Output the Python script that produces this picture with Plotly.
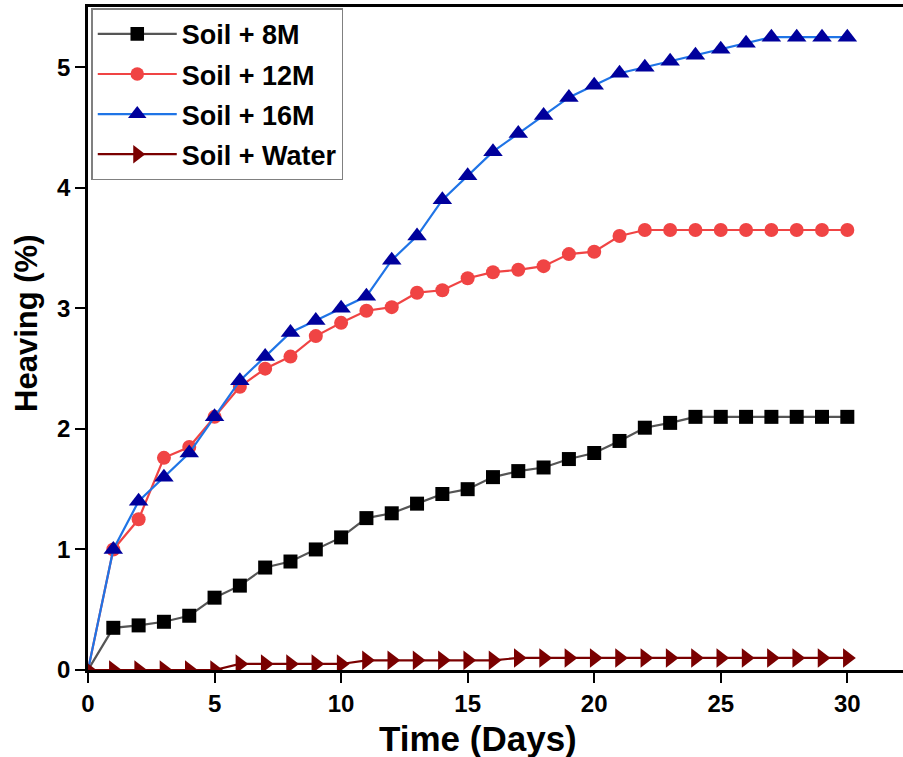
import plotly.graph_objects as go

# Heaving measurements over 30 days for each pore fluid
days = list(range(0, 31))

soil_8m = [0, 0.35, 0.37, 0.40, 0.45, 0.60, 0.70, 0.85, 0.90, 1.00, 1.10,
           1.26, 1.30, 1.38, 1.46, 1.50, 1.60, 1.65, 1.68, 1.75, 1.80,
           1.90, 2.01, 2.05, 2.10, 2.10, 2.10, 2.10, 2.10, 2.10, 2.10]

soil_12m = [0, 1.00, 1.25, 1.76, 1.85, 2.10, 2.35, 2.50, 2.60, 2.77, 2.88,
            2.98, 3.01, 3.13, 3.15, 3.25, 3.30, 3.32, 3.35, 3.45, 3.47,
            3.60, 3.65, 3.65, 3.65, 3.65, 3.65, 3.65, 3.65, 3.65, 3.65]

soil_16m = [0, 1.00, 1.40, 1.60, 1.80, 2.10, 2.40, 2.60, 2.80, 2.90, 3.00,
            3.10, 3.40, 3.60, 3.90, 4.10, 4.30, 4.45, 4.60, 4.75, 4.85,
            4.95, 5.00, 5.05, 5.10, 5.15, 5.20, 5.25, 5.25, 5.25, 5.25]

soil_water = [0, 0, 0, 0, 0, 0, 0.05, 0.05, 0.05, 0.05, 0.05,
              0.08, 0.08, 0.08, 0.08, 0.08, 0.08, 0.10, 0.10, 0.10, 0.10,
              0.10, 0.10, 0.10, 0.10, 0.10, 0.10, 0.10, 0.10, 0.10, 0.10]

series_names = ["Soil + 8M", "Soil + 12M", "Soil + 16M", "Soil + Water"]

FONT = "Arial"


def sizes(n, s, skip_first=True):
    # origin point has no visible marker for the solution series
    return [0 if (skip_first and i == 0) else s for i in range(n)]


fig = go.Figure()

styles = [
    dict(y=soil_8m, line="#555555", marker="#000000", symbol="square", size=14, skip=True),
    dict(y=soil_12m, line="#f04444", marker="#f04444", symbol="circle", size=14, skip=True),
    dict(y=soil_16m, line="#1f74e6", marker="#00009c", symbol="triangle-up", size=17, skip=True),
    dict(y=soil_water, line="#7a0000", marker="#7a0000", symbol="triangle-right", size=17, skip=False),
]

for i, (name, st) in enumerate(zip(series_names, styles)):
    fig.add_trace(go.Scatter(
        x=days, y=st["y"], name=name, mode="lines+markers",
        legendgroup=f"g{i}",
        line=dict(color=st["line"], width=2.2),
        marker=dict(color=st["marker"], symbol=st["symbol"], opacity=1,
                    size=sizes(len(days), st["size"], st["skip"]),
                    line=dict(width=0)),
        cliponaxis=True,
    ))

fig.update_layout(
    width=903, height=757,
    margin=dict(l=88, r=0, t=7, b=87),
    paper_bgcolor="white", plot_bgcolor="white",
    font=dict(family=FONT, color="black"),
    showlegend=True,
    legend=dict(
        x=0.004, y=0.998, xanchor="left", yanchor="top",
        bgcolor="white", bordercolor="#808080", borderwidth=1.5,
        font=dict(family=FONT, size=27, weight="bold", color="black"),
        itemsizing="trace", tracegroupgap=2, itemwidth=79,
    ),
    xaxis=dict(
        range=[0, 32.2], tickvals=[0, 5, 10, 15, 20, 25, 30],
        showgrid=False, zeroline=False,
        showline=True, linecolor="black", linewidth=2.5, mirror=True,
        ticks="outside", ticklen=10, tickwidth=2, tickcolor="black",
        tickfont=dict(family=FONT, size=24, weight="bold"),
    ),
    yaxis=dict(
        range=[0, 5.5], tickvals=[0, 1, 2, 3, 4, 5],
        showgrid=False, zeroline=False,
        showline=True, linecolor="black", linewidth=2.5,
        ticks="outside", ticklen=10, tickwidth=2, tickcolor="black",
        tickfont=dict(family=FONT, size=24, weight="bold"),
    ),
    annotations=[
        dict(text="Time (Days)", xref="paper", yref="paper",
             x=0.4785, y=-0.1026, xanchor="center", yanchor="middle",
             showarrow=False, font=dict(family=FONT, size=35, weight="bold")),
        dict(text="Heaving (%)", xref="paper", yref="paper",
             x=-0.0748, y=0.522, xanchor="center", yanchor="middle",
             textangle=-90, showarrow=False,
             font=dict(family=FONT, size=31, weight="bold")),
    ],
)

fig.write_html("out.html")
